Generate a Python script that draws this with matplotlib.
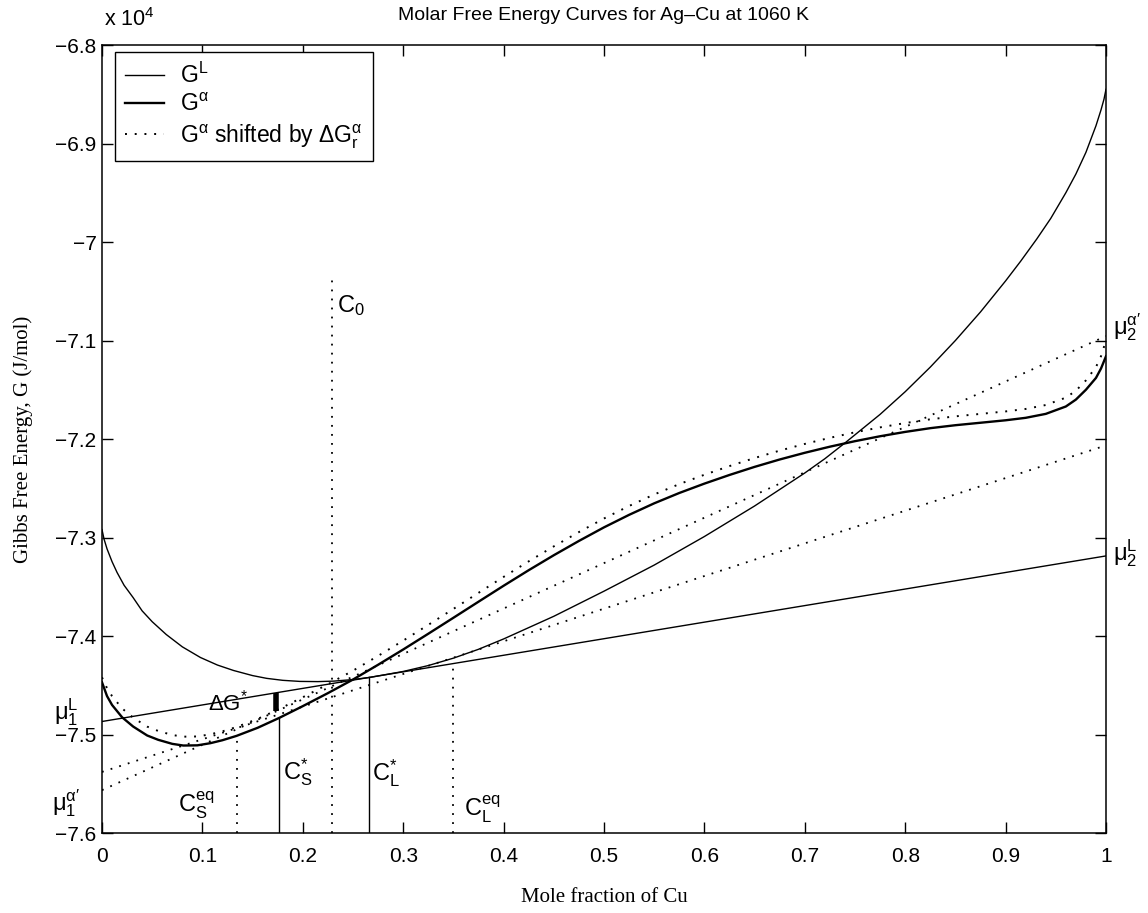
#!/usr/bin/env python3
"""Molar free energy curves for Ag-Cu at 1060 K (MATLAB style figure)."""

import matplotlib
matplotlib.use("Agg")
import matplotlib.pyplot as plt
from matplotlib.lines import Line2D

plt.rcParams["font.family"] = ["Liberation Sans", "DejaVu Sans"]
plt.rcParams["mathtext.fontset"] = "custom"
plt.rcParams["mathtext.rm"] = "Liberation Sans"
plt.rcParams["mathtext.it"] = "Liberation Sans:italic"
plt.rcParams["mathtext.bf"] = "Liberation Sans:bold"

# --- liquid free energy G^L (J/mol)
x_liq = [0, 0.002, 0.005, 0.01, 0.015, 0.022, 0.031, 0.04, 0.05, 0.064, 0.08,
         0.098, 0.115, 0.131, 0.15, 0.164, 0.18, 0.197, 0.215, 0.231, 0.25,
         0.267, 0.3, 0.325, 0.35, 0.375, 0.4, 0.45, 0.5, 0.55, 0.6, 0.65, 0.7,
         0.72, 0.74, 0.775, 0.8, 0.825, 0.85, 0.875, 0.9, 0.915, 0.931, 0.945,
         0.96, 0.97, 0.98, 0.99, 0.995, 0.998, 1.0]
G_liq = [-72920, -73015, -73115, -73245, -73355, -73485, -73610, -73745, -73855,
         -73985, -74110, -74218, -74295, -74350, -74402, -74430, -74450, -74461,
         -74463, -74458, -74442, -74420, -74360, -74300, -74225, -74135, -74030,
         -73800, -73545, -73280, -72990, -72680, -72345, -72200, -72040, -71750,
         -71520, -71270, -71000, -70710, -70395, -70195, -69970, -69760, -69500,
         -69310, -69090, -68820, -68660, -68550, -68450]

# --- solid (alpha) free energy G^alpha and the curve shifted by dG_r
x_alpha = [0, 0.005, 0.01, 0.02, 0.031, 0.045, 0.056, 0.07, 0.081, 0.095, 0.108,
           0.12, 0.134, 0.155, 0.176, 0.2, 0.225, 0.25, 0.275, 0.3, 0.325, 0.35,
           0.375, 0.4, 0.425, 0.45, 0.475, 0.5, 0.525, 0.55, 0.575, 0.6, 0.625,
           0.65, 0.675, 0.7, 0.725, 0.75, 0.775, 0.8, 0.825, 0.85, 0.875, 0.9,
           0.92, 0.94, 0.96, 0.97, 0.98, 0.99, 0.995, 1.0]
G_alpha = [-74470, -74610, -74700, -74825, -74919, -75010, -75054, -75095, -75112,
           -75110, -75088, -75058, -75014, -74932, -74834, -74712, -74580, -74442,
           -74292, -74137, -73977, -73815, -73652, -73490, -73332, -73180, -73035,
           -72897, -72770, -72653, -72548, -72453, -72365, -72283, -72208, -72140,
           -72078, -72022, -71972, -71928, -71890, -71860, -71835, -71810, -71785,
           -71745, -71670, -71600, -71500, -71380, -71285, -71160]
G_alpha_shift = [-74420, -74530, -74610, -74735, -74829, -74920, -74964, -75005,
                 -75022, -75020, -74998, -74968, -74924, -74842, -74744, -74622,
                 -74490, -74352, -74202, -74047, -73887, -73725, -73562, -73400,
                 -73242, -73090, -72945, -72807, -72680, -72563, -72458, -72363,
                 -72275, -72193, -72118, -72050, -71988, -71932, -71882, -71838,
                 -71800, -71770, -71745, -71720, -71695, -71655, -71580, -71510,
                 -71405, -71270, -71160, -71000]

# --- straight lines: values at x=0 and x=1
x_ends = [0, 1]
tangent_L = [-74868, -73187]        # mu1^L -> mu2^L
tangent_alpha = [-75565, -70955]    # mu1^alpha' -> mu2^alpha'
tangent_eq = [-75380, -72065]

# --- vertical composition markers: (x, top of line)
C0 = (0.229, -70370)
CS_eq = (0.134, -75014)
CS_star = (0.176, -74834)
CL_star = (0.266, -74420)
CL_eq = (0.350, -74290)
dG_star = (0.173, -74575, -74765)   # x, top, bottom of the bar

x_ticks = [0, 0.1, 0.2, 0.3, 0.4, 0.5, 0.6, 0.7, 0.8, 0.9, 1]
x_ticklabels = ["0", "0.1", "0.2", "0.3", "0.4", "0.5", "0.6", "0.7", "0.8", "0.9", "1"]
y_ticks = [-76000, -75000, -74000, -73000, -72000, -71000, -70000, -69000, -68000]
y_ticklabels = ["\u22127.6", "\u22127.5", "\u22127.4", "\u22127.3", "\u22127.2",
                "\u22127.1", "\u22127", "\u22126.9", "\u22126.8"]

DOT = (0, (1, 4))

fig = plt.figure(figsize=(11.48, 9.13), dpi=100)
ax = fig.add_axes([102 / 1148, 80 / 913, 1004 / 1148, 788 / 913])

ax.plot(x_liq, G_liq, color="black", lw=1.0)
ax.plot(x_alpha, G_alpha, color="black", lw=1.7)
ax.plot(x_alpha, G_alpha_shift, color="black", lw=1.4, linestyle=DOT)

ax.plot(x_ends, tangent_L, color="black", lw=1.0)
ax.plot(x_ends, tangent_alpha, color="black", lw=1.3, linestyle=DOT)
ax.plot(x_ends, tangent_eq, color="black", lw=1.3, linestyle=DOT)

ymin = -76000
for xc, top in (C0, CS_eq, CL_eq):
    ax.plot([xc, xc], [ymin, top], color="black", lw=1.3, linestyle=DOT)
for xc, top in (CS_star, CL_star):
    ax.plot([xc, xc], [ymin, top], color="black", lw=1.0)
ax.plot([dG_star[0], dG_star[0]], [dG_star[1], dG_star[2]], color="black",
        lw=4, solid_capstyle="butt")

# annotations
fs = 17
ax.text(0.234, -70650, r"C$_{\mathrm{0}}$", fontsize=fs, ha="left", va="center")
ax.text(0.094, -75720, r"C$_{\mathrm{S}}^{\mathrm{eq}}$", fontsize=fs, ha="center", va="center")
ax.text(0.180, -75380, r"C$_{\mathrm{S}}^{\mathrm{*}}$", fontsize=fs, ha="left", va="center")
ax.text(0.269, -75390, r"C$_{\mathrm{L}}^{\mathrm{*}}$", fontsize=fs, ha="left", va="center")
ax.text(0.361, -75760, r"C$_{\mathrm{L}}^{\mathrm{eq}}$", fontsize=fs, ha="left", va="center")
ax.text(0.146, -74680, "\u0394G$^{\\mathrm{*}}$", fontsize=fs - 1, ha="right", va="center")

ax.text(-0.036, -74770, r"$\mathrm{\mu}_{\mathrm{1}}^{\mathrm{L}}$", fontsize=fs, ha="center", va="center")
ax.text(-0.036, -75700, r"$\mathrm{\mu}_{\mathrm{1}}^{\mathrm{\alpha}\prime}$", fontsize=fs, ha="center", va="center")
ax.text(1.007, -70860, r"$\mathrm{\mu}_{\mathrm{2}}^{\mathrm{\alpha}\prime}$", fontsize=fs, ha="left", va="center")
ax.text(1.007, -73160, r"$\mathrm{\mu}_{\mathrm{2}}^{\mathrm{L}}$", fontsize=fs, ha="left", va="center")

ax.set_xlim(0, 1)
ax.set_ylim(-76000, -68000)
ax.set_xticks(x_ticks)
ax.set_xticklabels(x_ticklabels)
ax.set_yticks(y_ticks)
ax.set_yticklabels(y_ticklabels)
ax.tick_params(direction="in", length=8, width=1, top=True, right=True, labelsize=15)
ax.tick_params(axis="x", pad=10)
ax.tick_params(axis="y", pad=4)
for sp in ax.spines.values():
    sp.set_linewidth(1.1)

ax.annotate(r"x 10$^{\mathrm{4}}$", xy=(0, 1), xycoords="axes fraction",
            xytext=(2, 14), textcoords="offset pixels", fontsize=15.5,
            ha="left", va="bottom")

ax.set_title("Molar Free Energy Curves for Ag\u2013Cu at 1060 K", fontsize=14, pad=18)
ax.set_xlabel("Mole fraction of Cu", fontsize=15, family="Liberation Serif")
ax.set_ylabel("Gibbs Free Energy, G (J/mol)", fontsize=15, family="Liberation Serif")
ax.xaxis.set_label_coords(0.5, -(888 - 833) / 788)
ax.yaxis.set_label_coords(-(102 - 33) / 1004, 0.5)

handles = [
    Line2D([], [], color="black", lw=1.0),
    Line2D([], [], color="black", lw=1.7),
    Line2D([], [], color="black", lw=1.4, linestyle=DOT),
]
labels = [r"G$^{\mathrm{L}}$", r"G$^{\mathrm{\alpha}}$",
          r"G$^{\mathrm{\alpha}}$ shifted by $\mathrm{\Delta}$G$_{\mathrm{r}}^{\mathrm{\alpha}}$"]
leg = ax.legend(handles, labels, loc="upper left", bbox_to_anchor=(0.013, 0.991),
                borderaxespad=0, fontsize=16.5, fancybox=False, framealpha=1,
                edgecolor="black", handlelength=1.7, handletextpad=0.7,
                labelspacing=0.25, borderpad=0.45)
leg.get_frame().set_linewidth(1.0)

fig.savefig("out.png", dpi=100)
print("saved out.png")
